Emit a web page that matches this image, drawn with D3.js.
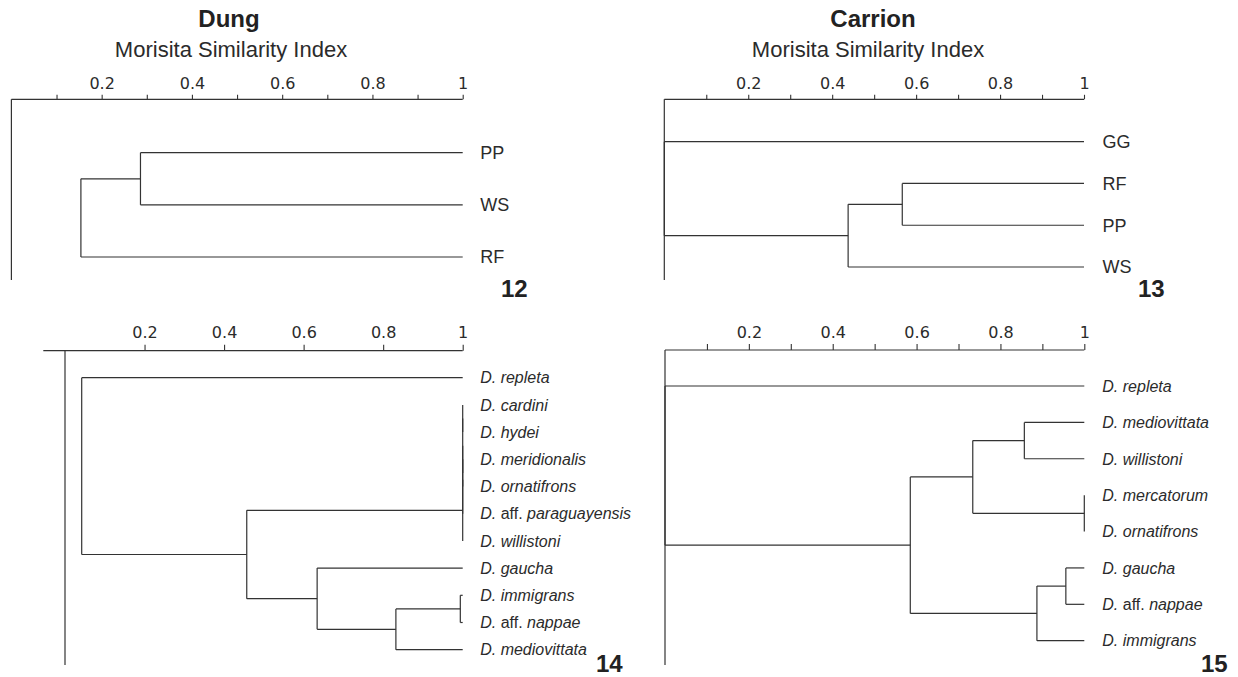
<!DOCTYPE html>
<html>
<head>
<meta charset="utf-8">
<script src="https://cdn.jsdelivr.net/npm/d3@7"></script>
<style>
  html, body { margin: 0; padding: 0; background: #fff; }
  svg { display: block; }
</style>
</head>
<body>
<svg id="chart" width="1238" height="677"></svg>
<script>
// Morisita similarity dendrograms: sites (12, 13) and species (14, 15),
// dung vs carrion baits. Trees are written as [similarity, childA, childB];
// plain strings are leaves (similarity 1).

const majorTicks = [0.2, 0.4, 0.6, 0.8, 1];
const tickLabels = ["0.2", "0.4", "0.6", "0.8", "1"];
const minorTicks = [0.1, 0.3, 0.5, 0.7, 0.9];

const dungSites = [0.154, [0.286, "PP", "WS"], "RF"];

const carrionSites = [0, "GG", [0.438, [0.567, "RF", "PP"], "WS"]];

const dungSpecies = [0.042,
  "D. repleta",
  [0.457,
    [1, [1, [1, [1, "D. cardini", "D. hydei"], [1, "D. meridionalis", "D. ornatifrons"]],
      "D. aff. paraguayensis"], "D. willistoni"],
    [0.634, "D. gaucha",
      [0.832, [0.994, "D. immigrans", "D. aff. nappae"], "D. mediovittata"]]]];

const carrionSpecies = [0,
  "D. repleta",
  [0.585,
    [0.734, [0.857, "D. mediovittata", "D. willistoni"], [1, "D. mercatorum", "D. ornatifrons"]],
    [0.887, [0.956, "D. gaucha", "D. aff. nappae"], "D. immigrans"]]];

const LINE = "#333";
const TEXT = "#2b2b2b";

const svg = d3.select("#chart");

// Layout for each panel (pixel positions only).
const panels = [
  { tree: dungSites, num: "12", x0: 11.4, x1: 462.7, axisY: 99.3, axisLeft: 11.4, bottom: 280,
    leafTop: 152.7, leafBottom: 257, minor: true, tickSize: 4.5, tickPad: 5.5,
    labelSize: 18, italic: false, labelGap: 17.5, numX: 501, numY: 297 },
  { tree: carrionSites, num: "13", x0: 664.3, x1: 1084, axisY: 99.3, axisLeft: 664.3, bottom: 280,
    leafTop: 141.7, leafBottom: 267, minor: true, tickSize: 4.5, tickPad: 5.5,
    labelSize: 18, italic: false, labelGap: 18.5, numX: 1138, numY: 297 },
  { tree: dungSpecies, num: "14", x0: 65, x1: 462.7, axisY: 350.7, axisLeft: 43.3, bottom: 665,
    leafTop: 377.7, leafBottom: 649.7, minor: false, tickSize: 6, tickPad: 6.4,
    labelSize: 16, italic: true, labelGap: 17.5, numX: 596, numY: 672 },
  { tree: carrionSpecies, num: "15", x0: 665, x1: 1084.3, axisY: 350, axisLeft: 665, bottom: 665,
    leafTop: 386, leafBottom: 640.7, minor: true, tickSize: 6, tickPad: 6,
    labelSize: 16, italic: true, labelGap: 18, numX: 1201, numY: 672 },
];

// Column headings.
[["Dung", 229, 231], ["Carrion", 873, 868]].forEach(([t, cx, sx]) => {
  svg.append("text")
    .attr("x", cx).attr("y", 27)
    .attr("text-anchor", "middle")
    .attr("font-family", "Liberation Sans, Arial, sans-serif")
    .attr("font-size", 24).attr("font-weight", "bold")
    .attr("fill", "#222")
    .text(t);
  svg.append("text")
    .attr("x", sx).attr("y", 57)
    .attr("text-anchor", "middle")
    .attr("font-family", "Liberation Sans, Arial, sans-serif")
    .attr("font-size", 22)
    .attr("fill", TEXT)
    .text("Morisita Similarity Index");
});

function drawPanel(p) {
  const g = svg.append("g");
  const x = d3.scaleLinear().domain([0, 1]).range([p.x0, p.x1]);

  const root = d3.hierarchy(p.tree, d => Array.isArray(d) ? d.slice(1) : null);
  const leaves = root.leaves().map(d => d.data);
  const y = d3.scalePoint().domain(leaves).range([p.leafTop, p.leafBottom]);

  root.eachAfter(n => {
    n.sim = n.children ? n.data[0] : 1;
    n.py = n.children ? d3.mean(n.children, c => c.py) : y(n.data);
  });

  // Axis: major ticks with labels, optional minor ticks, line drawn by hand.
  const ax = g.append("g")
    .attr("transform", `translate(0,${p.axisY})`)
    .call(d3.axisTop(x).tickValues(majorTicks)
      .tickFormat((d, i) => tickLabels[i])
      .tickSize(p.tickSize).tickPadding(p.tickPad));
  ax.select(".domain").remove();
  ax.attr("color", LINE)
    .attr("font-family", "DejaVu Sans, sans-serif")
    .attr("font-size", 16);
  ax.selectAll("text").attr("fill", TEXT);
  ax.selectAll("line").attr("stroke-width", 1.1);

  if (p.minor) {
    const mx = g.append("g")
      .attr("transform", `translate(0,${p.axisY})`)
      .call(d3.axisTop(x).tickValues(minorTicks).tickFormat("").tickSize(p.tickSize));
    mx.select(".domain").remove();
    mx.attr("color", LINE);
    mx.selectAll("line").attr("stroke-width", 1.1);
  }

  g.append("line")
    .attr("x1", p.axisLeft).attr("x2", x(1))
    .attr("y1", p.axisY).attr("y2", p.axisY)
    .attr("stroke", LINE).attr("stroke-width", 1.2);

  // Left baseline at similarity 0.
  g.append("line")
    .attr("x1", x(0)).attr("x2", x(0))
    .attr("y1", p.axisY).attr("y2", p.bottom)
    .attr("stroke", LINE).attr("stroke-width", 1.2);

  // Dendrogram: vertical joins at each merge, horizontal branches to parent.
  const links = g.append("g")
    .attr("fill", "none")
    .attr("stroke", LINE)
    .attr("stroke-width", 1.2);

  root.descendants().forEach(n => {
    if (n.children) {
      links.append("line")
        .attr("x1", x(n.sim)).attr("x2", x(n.sim))
        .attr("y1", n.children[0].py)
        .attr("y2", n.children[n.children.length - 1].py);
    }
    if (n.parent) {
      links.append("line")
        .attr("x1", x(n.parent.sim)).attr("x2", x(n.sim))
        .attr("y1", n.py).attr("y2", n.py);
    }
  });

  // Leaf labels; in species names only "aff." stays upright.
  leaves.forEach(name => {
    const t = g.append("text")
      .attr("x", x(1) + p.labelGap)
      .attr("y", y(name))
      .attr("dy", "0.36em")
      .attr("font-family", "Liberation Sans, Arial, sans-serif")
      .attr("font-size", p.labelSize)
      .attr("fill", TEXT);
    const words = name.split(" ");
    words.forEach((w, i) => {
      t.append("tspan")
        .attr("font-style", p.italic && w !== "aff." ? "italic" : "normal")
        .text(i < words.length - 1 ? w + " " : w);
    });
  });

  g.append("text")
    .attr("x", p.numX).attr("y", p.numY)
    .attr("font-family", "Liberation Sans, Arial, sans-serif")
    .attr("font-size", 24).attr("font-weight", "bold")
    .attr("fill", "#222")
    .text(p.num);
}

panels.forEach(drawPanel);
</script>
</body>
</html>
